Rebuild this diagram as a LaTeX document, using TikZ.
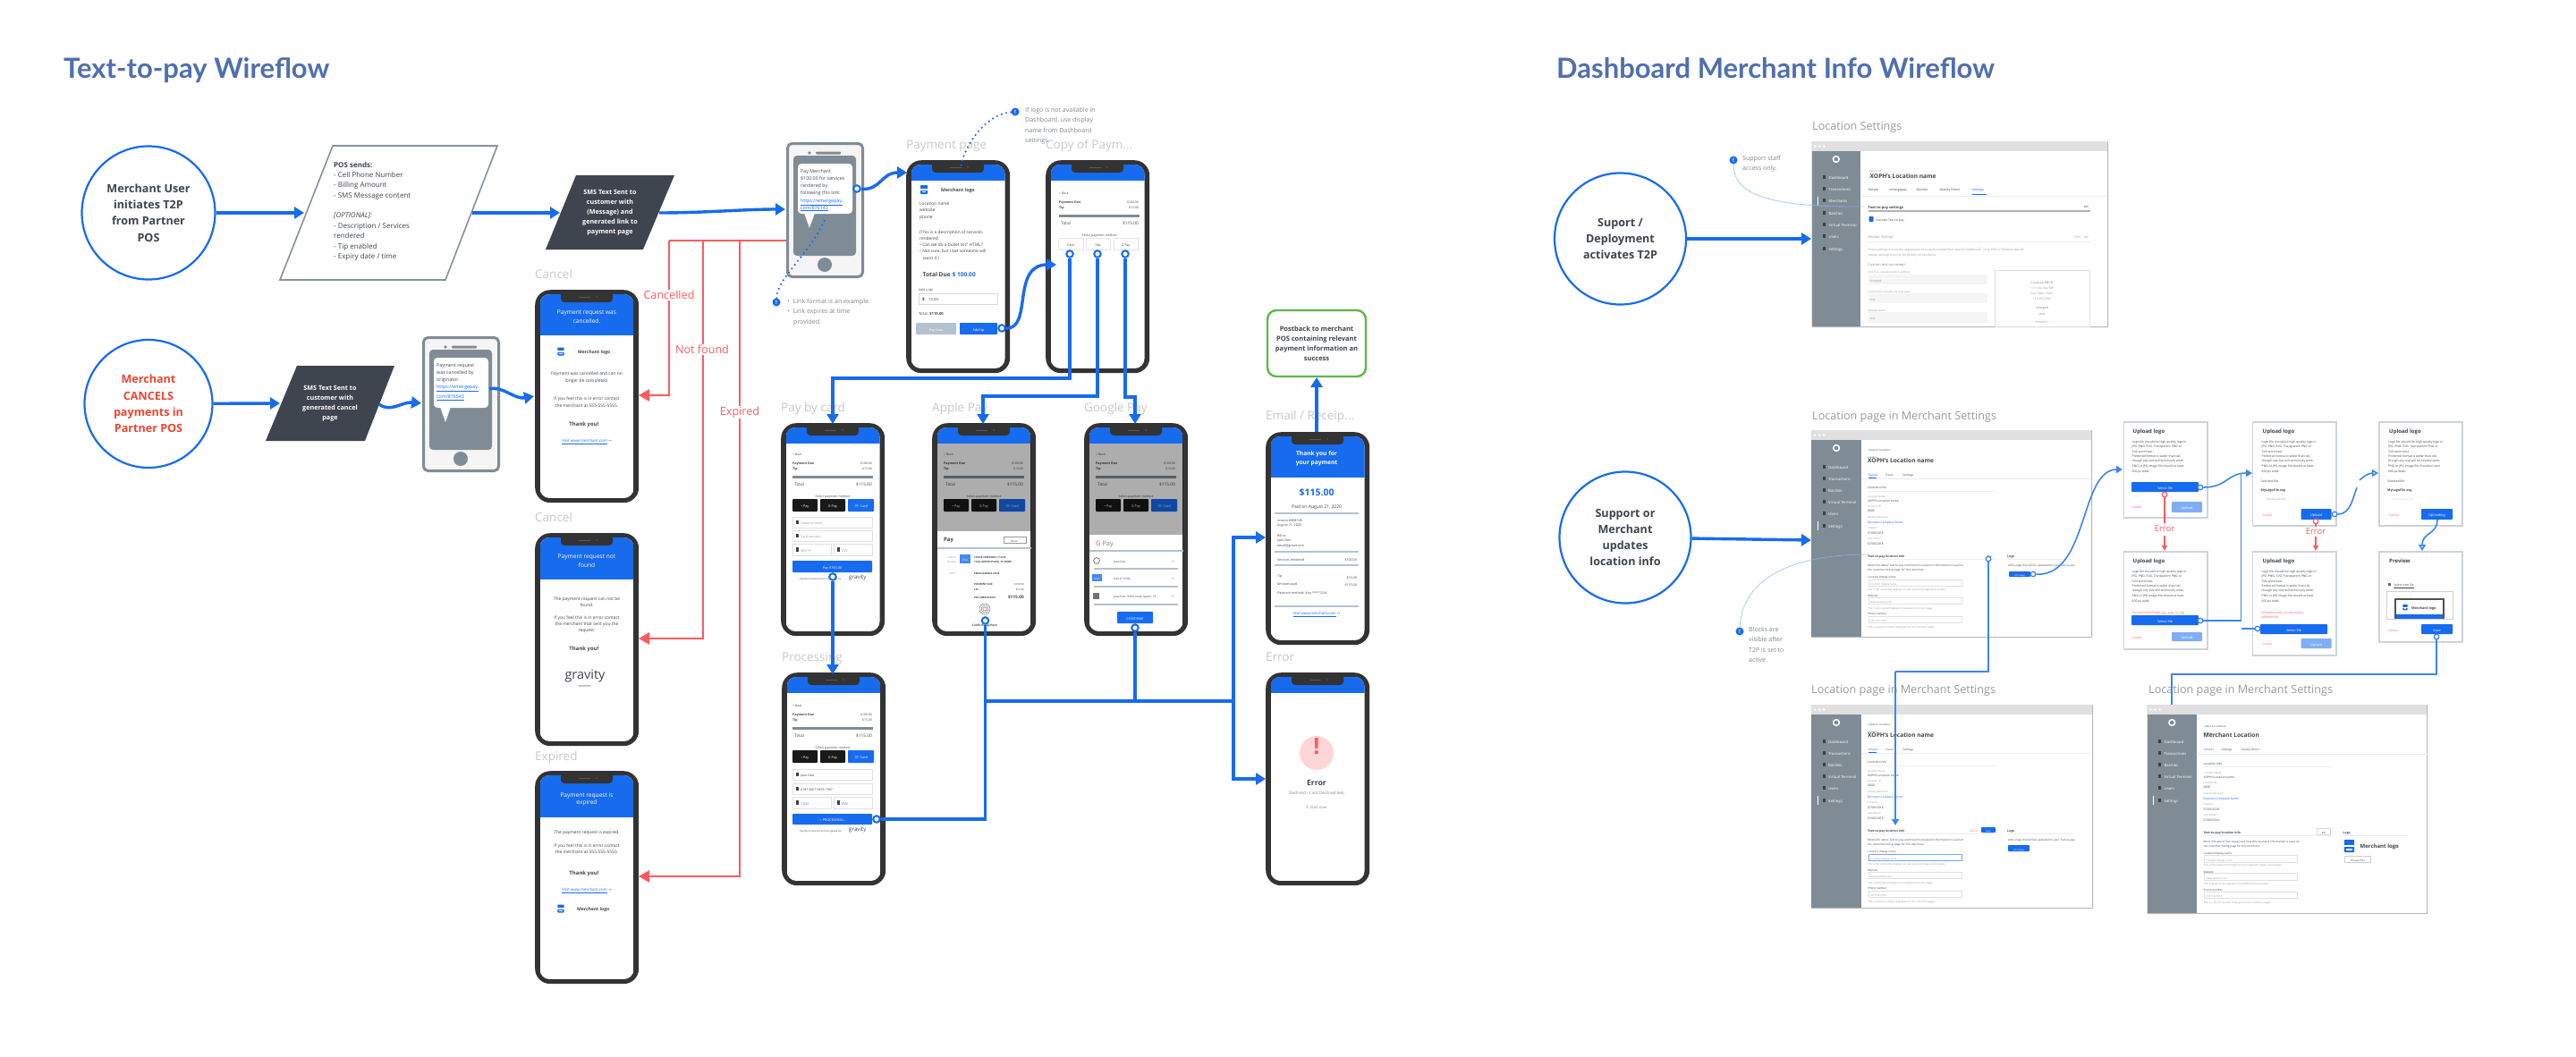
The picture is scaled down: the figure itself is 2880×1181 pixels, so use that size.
\documentclass[tikz,border=0pt]{standalone}
\usepackage{fontspec}
\setmainfont{Open Sans}
\newfontfamily\titlef{Lato}
\newfontfamily\djf{DejaVu Sans}
\usetikzlibrary{arrows.meta,shapes.geometric,calc}
\definecolor{cblue}{HTML}{176BEF}
\definecolor{cthin}{HTML}{3D85F0}
\definecolor{cdark}{HTML}{333333}
\definecolor{cslate}{HTML}{3E454E}
\definecolor{cred}{HTML}{FF5A5F}
\definecolor{corange}{HTML}{F0452F}
\definecolor{csteel}{HTML}{7F8C95}
\definecolor{crule}{HTML}{B4C2CE}
\definecolor{clabel}{HTML}{C6C9CD}
\definecolor{clabelb}{HTML}{969BA1}
\definecolor{cnote}{HTML}{7E858B}
\definecolor{cgreen}{HTML}{5CB84A}
\definecolor{ctitle}{HTML}{4F6FB0}
\definecolor{cframe}{HTML}{CDD3D9}
\definecolor{cfaint}{HTML}{E9EEF3}
\tikzset{
 lbl/.style={inner sep=0pt,text=cslate},
 bld/.style={execute at begin node=\bfseries},
 wht/.style={text=white},
 blu/.style={text=cblue},
 rdt/.style={text=cred},
 gry/.style={text=cnote},
 lgt/.style={text=black!40},
 phonebody/.style={fill=cdark,rounded corners=17pt,minimum width=116pt,minimum height=238pt,anchor=north west,inner sep=0pt},
 startcirc/.style={circle,draw=cblue,line width=2.2pt,fill=white,align=center,inner sep=0pt,text=cslate,font=\fontsize{12.6}{18.3}\selectfont\bfseries},
 conn/.style={draw=cblue,line width=3.4pt},
 connh/.style={conn,-{Triangle[length=11pt,width=13pt]}},
 thin2/.style={draw=cthin,line width=1.6pt},
 thin2h/.style={thin2,-{Triangle[length=7pt,width=8pt]}},
 thin2o/.style={thin2,-{Triangle[open,length=7pt,width=8pt,fill=white]}},
 redc/.style={draw=cred,line width=2.8pt},
 redh/.style={redc,-{Triangle[length=12pt,width=13pt]}},
 redt/.style={redc,line width=1.5pt,-{Triangle[length=6pt,width=6pt]}},
 port/.style={circle,draw=cblue,fill=white,line width=2pt,minimum size=7.5pt,inner sep=0pt},
 portt/.style={port,draw=cthin,line width=1.3pt,minimum size=5.5pt},
 portr/.style={port,draw=cred,line width=1.3pt,minimum size=5.5pt},
 screenlabel/.style={lbl,text=clabel,anchor=mid west,font=\fontsize{13.5}{14}\selectfont},
 winlabel/.style={lbl,text=clabelb,anchor=mid west,font=\fontsize{12.6}{14}\selectfont},
 rederr/.style={lbl,text=cred,font=\fontsize{12.6}{14}\selectfont,fill=white,inner sep=1pt},
 dots/.style={draw=cblue,line width=2.4pt,line cap=round,dash pattern=on 0pt off 5.4pt},
 fine/.style={draw=cthin!60,line width=.9pt,dash pattern=on 1pt off .7pt},
 info/.style={circle,fill=cblue,text=white,minimum size=9pt,inner sep=0pt,font=\fontsize{6}{6}\selectfont\bfseries},
 notet/.style={lbl,text=cnote,anchor=north west,align=left,font=\fontsize{7}{11.6}\selectfont},
 ruleb/.style={draw=crule,line width=2.2pt},
 rulef/.style={draw=cfaint,line width=.9pt},
 ruleg/.style={draw=csteel,line width=3pt},
 winbox/.style={draw=black!28,line width=1.2pt,fill=white,anchor=north west,inner sep=0pt,rounded corners=.8pt},
 dlg/.style={draw=cframe,line width=1.5pt,fill=white,anchor=north west,inner sep=0pt},
}
\newcounter{tn}
\newcommand{\LT}[5][]{\stepcounter{tn}\node[lbl,anchor=mid west,font=\fontsize{#4}{#4}\selectfont,#1] (t\arabic{tn}) at ({#2},{#3}) {#5};}
\newcommand{\CT}[5][]{\stepcounter{tn}\node[lbl,anchor=mid,font=\fontsize{#4}{#4}\selectfont,#1] (t\arabic{tn}) at ({#2},{#3}) {#5};}
\newcommand{\RT}[5][]{\stepcounter{tn}\node[lbl,anchor=mid east,font=\fontsize{#4}{#4}\selectfont,#1] (t\arabic{tn}) at ({#2},{#3}) {#5};}
% button: x1 x2 y1 y2 colour text
\newcommand{\PB}[6]{\fill[#5,rounded corners=.8pt] (#1,#3) rectangle (#2,#4);\CT[wht]{(#1+#2)/2}{(#3+#4)/2}{3.8}{#6}}
\newcommand{\storeicon}[3]{\begin{scope}[shift={(#1,#2)},scale=#3]
 \fill[cblue,rounded corners=.8pt] (-4,-5) rectangle (4,5);\fill[white] (-4,-.6) rectangle (4,.9);\fill[white] (-2.2,2) rectangle (2.2,3.4);\end{scope}}
\newcommand{\phoneframe}[4]{\node[phonebody] (#1) at (#2,#3) {};
 \begin{scope}[shift={(#2,#3)}]
 \begin{scope}\clip[rounded corners=11pt] (5.5,5) rectangle (110.5,233);
  \fill[white] (5.5,5) rectangle (110.5,233);\fill[cblue] (5.5,5) rectangle (110.5,#4);\end{scope}
 \fill[cdark,rounded corners=4pt] (29,2) rectangle (87,14);
 \fill[black!65] (49,7.6) rectangle (62,8.6);\fill[black!65] (69,8) circle (.8);
 \end{scope}}
\newcommand{\paysum}{%
 \LT{13}{34}{3.4}{\textless\ Back}
 \LT[bld]{13}{44}{3.6}{Payment Due}\RT{102}{44}{3.4}{\$100.00}
 \LT[bld]{13}{50}{3.6}{Tip}\RT{102}{50}{3.4}{\$15.00}
 \draw[ruleg] (13,60.5) -- (103,60.5);
 \LT{15}{67.5}{4.8}{Total}\RT{102}{67.5}{4.8}{\$115.00}
 \CT{58}{80.5}{3.5}{Select payment method}}
\newcommand{\paybtns}{%
 \PB{13}{41}{85}{99}{black!90}{\textbullet\ Pay}\PB{44}{72}{85}{99}{black!90}{G Pay}\PB{75}{104}{85}{99}{cblue}{\(\equiv\) Card}}
\newcommand{\smallphone}[7]{\node[draw=csteel,line width=3pt,fill=black!4,rounded corners=5pt,minimum width=84pt,minimum height=149pt,anchor=north west,inner sep=0pt] (#1) at (#2,#3) {};
 \begin{scope}[shift={(#2,#3)}]
 \fill[csteel,rounded corners=4pt] (8,15) rectangle (78,127);
 \fill[csteel,rounded corners=1pt] (33,10.5) rectangle (61,13.5);\fill[csteel] (26,12) circle (1.8);\fill[csteel] (43,137) circle (8);
 \fill[white,rounded corners=4pt] (13,24) rectangle (74,80);\fill[white] (20,79) -- (26,96) -- (32,79) -- cycle;
 \LT{16}{32}{5.3}{#4}\LT{16}{40}{5.3}{#5}\LT{16}{48}{5.3}{#6}\LT{16}{56}{5.3}{#7}}
\newcommand{\winframe}[6]{\node[winbox,minimum width=#4pt,minimum height=#5pt] (#1) at (#2,#3) {};
 \begin{scope}[shift={(#2,#3)}]
 \fill[black!12] (0,0) rectangle (#4,11);\fill[white] (4,5.5) circle (1.3);\fill[white] (9,5.5) circle (1.3);\fill[white] (14,5.5) circle (1.3);
 \fill[csteel] (0,11) rectangle (#6,#5);
 \fill[white] (#6/2,20) circle (4.2);\fill[csteel] (#6/2,20) circle (2.4);}
\newcommand{\Sb}[2]{\fill[black!75] (12.5,#1-2.2) rectangle (15.5,#1+2.2);\LT[wht]{19}{#1}{4.2}{#2}}
\newcommand{\locside}{\Sb{41}{Dashboard}\Sb{54}{Transactions}\Sb{67}{Batches}\Sb{80}{Virtual Terminal}\Sb{93}{Users}\Sb{107}{Settings}\fill[white] (6.6,102) rectangle (7.4,112);}
\newcommand{\locinfo}{%
 \LT{63}{21}{2.8}{\textless\ Back to Locations}\LT{63}{29}{2.6}{Location}
 \draw[rulef,draw=cblue!12] (56,54) -- (313,54);
 \LT{63}{63}{3.4}{Location Info}\draw[rulef] (63,68) -- (206,68);
 \LT[lgt]{63}{73}{2.8}{Location Name}\LT{63}{78}{3.3}{XOPH's Location name}
 \LT[lgt]{63}{84}{2.8}{Location ID}\LT{63}{89}{3.3}{0000}
 \LT[lgt]{63}{96}{2.8}{Gravity Merchant}\LT[blu]{63}{102}{3.3}{Business Company Name}
 \LT[lgt]{63}{108}{2.8}{Created}\LT{63}{114}{3.3}{07/06/2018}
 \LT[lgt]{63}{120}{2.8}{Last Edited}\LT{63}{126}{3.3}{07/06/2018}
 \LT[bld]{63}{140}{3.4}{Text-to-pay location info}\draw[rulef] (63,144.5) -- (206,144.5);
 \LT{63}{150}{3.1}{More info about Text-to-pay and how this location's information is used on}
 \LT{63}{155}{3.1}{the customer-facing page for this merchant.}
 \LT{63}{163}{3}{Location display name}\draw[black!12,fill=white,line width=.7pt] (64,167) rectangle (168,174.5);\LT[lgt]{66}{171}{2.8}{Location display name}
 \LT[lgt]{63}{176.5}{2.8}{This is the name that displays on your payment pages and receipts.}
 \LT{63}{184}{3}{Website}\draw[black!12,fill=white,line width=.7pt] (64,187) rectangle (168,194.5);\LT[lgt]{66}{191}{2.8}{www.website.com}
 \LT[lgt]{63}{197.5}{2.8}{This is optional and appears if available from your page.}
 \LT{63}{204}{3}{Phone number}\draw[black!12,fill=white,line width=.7pt] (64,208) rectangle (168,215);\LT[lgt]{66}{211.5}{2.8}{555-555-5555}
 \LT[lgt]{63}{218.5}{2.8}{This is a phone number displayed on the customer pages.}
 \LT[bld]{219}{140}{3.4}{Logo}\draw[rulef] (219,144.5) -- (291,144.5);}
\newcommand{\upltxt}[1]{\LT[bld]{#1}{11}{6}{Upload logo}
 \LT{#1-1}{22}{3.4}{Logo file should be high quality logo in}
 \LT{#1-1}{27}{3.4}{JPG, PNG, SVG. Transparent PNG or}
 \LT{#1-1}{32.5}{3.4}{SVG work best.}
 \LT{#1-1}{38}{3.4}{Preferred format is wider than tall,}
 \LT{#1-1}{43}{3.4}{though any size will technically work.}
 \LT{#1-1}{48.5}{3.4}{PNG or JPG image file should at least}
 \LT{#1-1}{54.5}{3.4}{600 px wide.}}
\newcommand{\dlgbox}[5]{\node[dlg,minimum width=#4pt,minimum height=#5pt] (#1) at (#2,#3) {};}
\begin{document}
\begin{tikzpicture}[x=1pt,y=-1pt]
\useasboundingbox (0,0) rectangle (2880,1181);
\fill[white] (0,0) rectangle (2880,1181);
% ---------- titles
\node[lbl,text=ctitle,anchor=mid west,font=\fontsize{31}{31}\selectfont\titlef\bfseries] (title1) at (71,85) {Text-to-pay Wireflow};
\node[lbl,text=ctitle,anchor=mid west,font=\fontsize{31}{31}\selectfont\titlef\bfseries] (title2) at (1740,85) {Dashboard Merchant Info Wireflow};
% ---------- start nodes left
\node[startcirc,minimum size=149pt] (m1) at (166,238) {Merchant User\\initiates T2P\\from Partner\\POS};
\node[startcirc,minimum size=143pt,text=corange] (m2) at (166,451.5) {Merchant\\CANCELS\\payments in\\Partner POS};
\draw[draw=black!25!crule,line width=1.6pt,fill=white] (372,163) -- (556,163) -- (498,313) -- (313,313) -- cycle;
\node[lbl,anchor=north west,align=left,font=\fontsize{8}{11.35}\selectfont] (pos) at (373,181) {\textbf{POS sends:}\\- Cell Phone Number\\- Billing Amount\\- SMS Message content\\[11.3pt]\textit{[OPTIONAL]:}\\- Description / Services\\rendered\\- Tip enabled\\- Expiry date / time};
\fill[cslate] (644,196) -- (754,196) -- (719,279) -- (610,279) -- cycle;
\node[lbl,wht,align=center,font=\fontsize{7.2}{11.1}\selectfont\bfseries] (sms1) at (682,237.5) {SMS Text Sent to\\customer with\\(Message) and\\generated link to\\payment page};
\fill[cslate] (332,409) -- (441,409) -- (408,493) -- (297,493) -- cycle;
\node[lbl,wht,align=center,font=\fontsize{7.2}{11.1}\selectfont\bfseries] (sms2) at (369,451) {SMS Text Sent to\\customer with\\generated cancel\\page};
% ---------- small phones
\smallphone{sp1}{879}{159}{Pay Merchant}{\$100.00 for services}{rendered by}{following this link:}
 \LT[blu]{16}{64.5}{5.3}{\underline{https://emergepay.}}\LT[blu]{16}{72.5}{5.3}{\underline{com/876143}}
\end{scope}
\smallphone{sp2}{472}{376}{Payment request}{was cancelled by}{originator.}{\textcolor{cblue}{\underline{https://emergepay.}}}
 \LT[blu]{16}{67}{5.3}{\underline{com/876543}}
\end{scope}
% ---------- screen labels
\node[screenlabel] (l1) at (598,309) {Cancel};
\node[screenlabel] (l2) at (598,581) {Cancel};
\node[screenlabel] (l3) at (598,848) {Expired};
\node[screenlabel] (l4) at (1013,164) {Payment page};
\node[screenlabel] (l5) at (1169,164) {Copy of Paym...};
\node[screenlabel] (l6) at (873,458) {Pay by card};
\node[screenlabel] (l7) at (1042,458) {Apple Pay};
\node[screenlabel] (l8) at (1212,458) {Google Pay};
\node[screenlabel] (l9) at (1415,467) {Email / Receip...};
\node[screenlabel] (l10) at (874,737) {Processing};
\node[screenlabel] (l11) at (1415,737) {Error};
% ---------- Cancel
\phoneframe{pCancel}{598}{324}{51}
\begin{scope}[shift={(598,324)}]
 \CT[wht]{58}{25}{6.6}{Payment request was}\CT[wht]{58}{35}{6.6}{cancelled.}
 \storeicon{29}{69}{.9}\LT[bld]{48}{69}{5}{Merchant logo}
 \CT{58}{93}{4.9}{Payment was cancelled and can no}\CT{58}{101}{4.9}{longer be completed.}
 \CT{58}{121}{4.9}{If you feel this is in error contact}\CT{58}{129}{4.9}{the merchant at 555-555-5555.}
 \CT[bld]{55}{150}{6}{Thank you!}\CT[blu]{58}{168}{4.4}{\underline{Visit www.merchant.com} {\djf→}}
\end{scope}
% ---------- Cancel not found
\phoneframe{pNotFound}{598}{596}{52}
\begin{scope}[shift={(598,596)}]
 \CT[wht]{58}{26}{6.6}{Payment request not}\CT[wht]{58}{36}{6.6}{found}
 \CT{58}{73}{4.9}{The payment request can not be}\CT{58}{80}{4.9}{found.}
 \CT{58}{94}{4.9}{If you feel this is in error contact}\CT{58}{101}{4.9}{the merchant that sent you the}\CT{58}{108}{4.9}{request.}
 \CT[bld]{55}{129}{6}{Thank you!}
 \CT{56}{161}{14.5}{gravity}\CT{56}{170}{2.8}{PAYMENTS}
\end{scope}
% ---------- Expired
\phoneframe{pExpired}{598}{862}{52}
\begin{scope}[shift={(598,862)}]
 \CT[wht]{58}{27}{6.6}{Payment request is}\CT[wht]{58}{35}{6.6}{expired}
 \CT{58}{68}{4.9}{The payment request is expired.}
 \CT{58}{83}{4.9}{If you feel this is in error contact}\CT{58}{90}{4.9}{the merchant at 555-555-5555.}
 \CT[bld]{55}{114}{6}{Thank you!}\CT[blu]{58}{132}{4.4}{\underline{Visit www.merchant.com} {\djf→}}
 \storeicon{29}{154}{.9}\LT[bld]{47}{154}{5}{Merchant logo}
\end{scope}
% ---------- Payment page
\phoneframe{pPay}{1013}{179}{23}
\begin{scope}[shift={(1013,179)}]
 \storeicon{20}{33}{1}\LT[bld]{39}{33}{5.2}{Merchant logo}
 \LT{15}{48}{4.8}{Location name}\LT{15}{55}{4.8}{website}\LT{15}{63}{4.8}{phone}
 \LT{15}{80}{4.8}{(This is a description of services}\LT{15}{87}{4.8}{rendered.}
 \LT{15}{94}{4.8}{\textbullet\ Can we do a bullet list? HTML?}\LT{15}{101}{4.8}{\textbullet\ Not sure, but I bet someone will}\LT{19}{109}{4.8}{want it.)}
 \LT[bld]{18.5}{128}{6.6}{Total Due \textcolor{cblue}{\$ 100.00}}
 \LT{14}{144}{3.6}{Add a tip!}
 \draw[black!15,line width=.8pt] (14,149) rectangle (102,161);
 \LT[bld]{18}{155}{4.8}{\$}\LT{25}{155}{4.2}{15.00}
 \LT{14}{171}{4.2}{Total: \textbf{\$115.00}}
 \PB{11}{56}{182}{195}{crule}{Pay Now}\PB{60}{102}{182}{195}{cblue}{Add tip}
\end{scope}
% ---------- Copy of Payment
\phoneframe{pCopy}{1169}{179}{23}
\begin{scope}[shift={(1169,179)}]
 \begin{scope}[shift={(2,2)}]\paysum\end{scope}
 \foreach \xa/\xb/\tt in {14/42/Card,45/72/Pay,76/103/G Pay}{
  \draw[black!10,line width=.8pt] (\xa,87) rectangle (\xb,100);
  \CT{\xa/2+\xb/2}{93.5}{3.6}{\tt}}
\end{scope}
% ---------- Pay by card
\phoneframe{pCard}{873}{473}{23}
\begin{scope}[shift={(873,473)}]
 \paysum\paybtns
 \foreach \yy/\tt in {105/Name on card,120/Card number}{\draw[black!12,line width=.8pt] (13,\yy) rectangle (102,\yy+12);\LT[lgt]{22}{\yy+6}{3.6}{\tt}\fill[black!75] (17,\yy+4) rectangle (20,\yy+8);}
 \draw[black!12,line width=.8pt] (13,135) rectangle (56,148);\LT[lgt]{22}{141.5}{3.6}{MM/YY}\fill[black!75] (17,139) rectangle (20,144);
 \draw[black!12,line width=.8pt] (59,135) rectangle (102,148);\LT[lgt]{68}{141.5}{3.6}{CVV}\fill[black!75] (63,139) rectangle (66,144);
 \PB{13}{102}{154}{167}{cblue}{Pay \$100.00}
 \LT{21}{173}{2.8}{Payment secured and encrypted by}\LT{76}{172}{6.2}{gravity}
\end{scope}
% ---------- Apple Pay
\phoneframe{pApple}{1042}{473}{23}
\begin{scope}[shift={(1042,473)}]
 \paysum\paybtns
 \fill[black,opacity=.32] (5.5,23) rectangle (110.5,121);
 \LT[bld]{13}{130}{6}{Pay}
 \draw[black!40,line width=.6pt] (80,127) rectangle (105,134);\CT{92}{130.5}{3}{Done}
 \draw[ruleb] (5.5,140) -- (110.5,140);
 \RT[lgt]{27}{149}{2.6}{CARD \&}\RT[lgt]{27}{154}{2.6}{BILLING}
 \fill[cblue!80] (31,147) rectangle (43,157);\CT[wht]{37}{152}{3}{VISA}
 \LT[bld]{47}{149}{2.9}{CHASE FREEDOM (\textbullet\textbullet1234)}\LT[bld]{47}{154}{2.9}{1234 LOREM IPSUM, TX 99999}
 \RT[lgt]{27}{167}{2.6}{EMAIL}\LT[bld]{47}{167}{2.9}{EMAIL@EMAIL.COM}
 \LT[bld]{47}{179}{2.9}{PAYMENT DUE}\RT{103}{179}{2.9}{\$100.00}
 \LT[bld]{47}{185}{2.9}{TIP}\RT{103}{185}{2.9}{\$15.00}
 \LT[bld]{47}{194}{2.9}{PAY (MERCHANT)}\RT[bld]{103}{194}{4.8}{\$115.00}
 \foreach \rr in {2,4,6}{\draw[black!55,line width=.5pt] (59,208) circle (\rr);}
 \CT[bld]{59}{225}{3.2}{Confirm Payment}
\end{scope}
% ---------- Google Pay
\phoneframe{pGoogle}{1212}{473}{23}
\begin{scope}[shift={(1212,473)}]
 \paysum\paybtns
 \fill[black,opacity=.32] (5.5,23) rectangle (110.5,125);
 \LT[gry]{13}{135}{7.4}{\textcolor{corange}{G} Pay}
 \draw[ruleb] (5.5,143) -- (110.5,143);
 \draw[black!60,line width=.7pt] (14,154) circle (3.4);
 \LT{33}{154}{3.2}{Jane Doe}\RT[gry]{102}{154}{3.2}{\(\vee\)}
 \draw[ruleb] (11,163) -- (105,163);
 \fill[cblue!80] (9,169) rectangle (20,177);\CT[wht]{14.5}{173}{2.8}{VISA}
 \LT{33}{173}{3.2}{Visa (\textbullet\textbullet1234)}\RT[gry]{102}{173}{3.2}{\(\vee\)}
 \draw[ruleb] (11,183) -- (105,183);
 \fill[black!55] (10,190) rectangle (17,197);
 \LT{33}{193}{3.2}{Jane Doe 1600 Lorem Ipsum, TX...}\RT[gry]{102}{193}{3.2}{\(\vee\)}
 \draw[ruleb] (11,203) -- (105,203);
 \PB{37}{77}{211}{224}{cblue}{CONTINUE}
\end{scope}
% ---------- Processing
\phoneframe{pProc}{874}{752}{23}
\begin{scope}[shift={(874,752)}]
 \begin{scope}[shift={(-1,2)}]\paysum\paybtns\end{scope}
 \begin{scope}[shift={(-1,3)}]
 \foreach \yy/\tt in {105/Jane Doe,121/4187 0067 6876 7997}{\draw[black!12,line width=.8pt] (13,\yy) rectangle (102,\yy+12);\LT{22}{\yy+6}{3.6}{\tt}\fill[black!75] (17,\yy+4) rectangle (20,\yy+8);}
 \draw[black!12,line width=.8pt] (13,136) rectangle (56,149);\LT{22}{142.5}{3.6}{11/21}\fill[black!75] (17,140) rectangle (20,145);
 \draw[black!12,line width=.8pt] (59,136) rectangle (102,149);\LT{68}{142.5}{3.6}{CVV}\fill[black!75] (63,140) rectangle (66,145);
 \end{scope}
 \PB{12}{101}{158}{170}{cblue}{--- PROCESSING...}
 \LT{20}{176}{2.8}{Payment secured and encrypted by}\LT{75}{175}{6.2}{gravity}
\end{scope}
% ---------- Receipt
\phoneframe{pReceipt}{1415}{483}{51}
\begin{scope}[shift={(1415,483)}]
 \CT[wht,bld]{57}{24}{6.6}{Thank you for}\CT[wht,bld]{57}{34}{6.6}{your payment}
 \CT[blu,bld]{57}{69}{10.5}{\$115.00}\CT{57}{83}{5}{Paid on August 21, 2020}
 \draw[ruleb] (10,91) -- (104,91);
 \LT{13}{98}{3.6}{Invoice \#808108}\LT{13}{103}{3.6}{August 21, 2020}
 \LT{13}{115}{3.6}{Bill to:}\LT{13}{120}{3.6}{Jane Doe}\LT{13}{126}{3.6}{email@gmail.com}
 \draw[ruleb] (10,134) -- (104,134);
 \LT{13}{142}{3.6}{Services rendered}\RT{102}{142}{3.6}{\$100.00}
 \draw[ruleb] (10,149) -- (104,149);
 \LT{13}{160}{3.6}{Tip}\RT{102}{162}{3.6}{\$15.00}
 \LT{13}{169}{3.6}{Amount paid}\RT{102}{170}{3.6}{\$115.00}
 \LT{13}{179}{3.6}{Payment method: Visa ****1234}
 \draw[ruleb] (10,195) -- (104,195);
 \CT[blu]{57}{202}{4.2}{\underline{Visit www.merchant.com} {\djf→}}
\end{scope}
% ---------- Error
\phoneframe{pError}{1415}{752}{23}
\begin{scope}[shift={(1415,752)}]
 \fill[cred!25] (57,90) circle (19);
 \CT[bld,text=cred]{57}{89}{25}{!}
 \CT[bld]{57}{124}{8.6}{Error}\CT[gry]{57}{134}{4.6}{Declined - Card Declined (66)}
 \CT[gry]{57}{150}{4.2}{{\djf↻} Start over}
\end{scope}
% ---------- postback
\node[draw=cgreen,line width=2.4pt,rounded corners=10pt,fill=white,minimum width=110pt,minimum height=74pt,inner sep=0pt,align=center,text=cslate,font=\fontsize{7.5}{11.2}\selectfont\bfseries] (post) at (1472,384) {Postback to merchant\\POS containing relevant\\payment information an\\success};
% ---------- notes left
\node[info] (i1) at (868,338) {!};
\node[notet] (n1) at (880,333.5) {\textbullet\hspace{4pt}Link format is an example.\\\textbullet\hspace{4pt}Link expires at time\\\hspace{7pt}provided.};
\node[info] (i2) at (1135,125) {!};
\node[notet] (n2) at (1146,119.5) {If logo is not available in\\Dashboard, use display\\name from Dashboard\\settings.};
% ---------- ports
\node[port] (ps1) at (958,211) {};
\node[port] (pp1) at (1120,367) {};
\node[port] (pc1) at (1196,284) {};
\node[port] (pc2) at (1227,284) {};
\node[port] (pc3) at (1258,284) {};
\node[port] (pd1) at (931,645) {};
\node[port] (pd2) at (1101.5,694) {};
\node[port] (pd3) at (1269,702) {};
\node[port] (pd4) at (980,916) {};
% ---------- named waypoints
\coordinate (a1) at (340,238);\coordinate (a2s) at (528,238);\coordinate (a2) at (626,238);
\coordinate (a3s) at (737,238);\coordinate (a3) at (878,234);
\coordinate (a4) at (313,451);\coordinate (a5s) at (424,452);\coordinate (a5) at (471,451);
\coordinate (a6s) at (547,435);\coordinate (a6) at (597,443);
\coordinate (tpay) at (1014,193);\coordinate (tcopy) at (1181,296);
\coordinate (w1a) at (1196,423);\coordinate (w1b) at (931,423);\coordinate (tcard) at (931,474);
\coordinate (w2a) at (1227,443);\coordinate (w2b) at (1099,443);\coordinate (tapple) at (1099,474);
\coordinate (w3a) at (1258,444);\coordinate (w3b) at (1269,444);\coordinate (tgoogle) at (1269,474);
\coordinate (tproc) at (931,754);
\coordinate (j1) at (1101.5,916);\coordinate (j2) at (1101.5,784);\coordinate (j3) at (1269,784);\coordinate (j4) at (1379,784);
\coordinate (j5) at (1379,601);\coordinate (j6) at (1379,871);\coordinate (trec) at (1415,601);\coordinate (terr) at (1415,871);
\coordinate (rs) at (879,269);\coordinate (r1a) at (748,269);\coordinate (r1b) at (748,442);\coordinate (r1c) at (714,442);
\coordinate (r2a) at (786,269);\coordinate (r2b) at (786,714);\coordinate (r2c) at (714,714);
\coordinate (r3a) at (827,269);\coordinate (r3b) at (827,980);\coordinate (r3c) at (714,980);
\coordinate (gs) at (1472,483);\coordinate (gt) at (1472,422);
% ---------- connectors left
\draw[connh] (m1) -- (a1);
\draw[connh] (a2s) -- (a2);
\draw[connh] (a3s) .. controls (790,238) and (830,234) .. (a3);
\draw[connh] (m2) -- (a4);
\draw[connh] (a5s) .. controls (436,462) and (450,449) .. (a5);
\draw[connh] (a6s) .. controls (562,431) and (575,447) .. (a6);
\draw[connh] (ps1) .. controls (985,213) and (985,193) .. (tpay);
\draw[connh] (pp1) .. controls (1155,368) and (1130,296) .. (tcopy);
\draw[connh] (pc1) -- (w1a) -- (w1b) -- (tcard);
\draw[connh] (pc2) -- (w2a) -- (w2b) -- (tapple);
\draw[connh] (pc3) -- (w3a) -- (w3b) -- (tgoogle);
\draw[connh] (pd1) -- (tproc);
\draw[conn] (pd4) -- (j1) -- (pd2);
\draw[conn] (pd3) -- (j3);
\draw[conn] (j2) -- (j4);
\draw[connh] (j4) -- (j5) -- (trec);
\draw[connh] (j4) -- (j6) -- (terr);
\draw[connh] (gs) -- (gt);
\draw[redc] (rs) -- (r1a);
\draw[redh] (r1a) -- (r1b) -- (r1c);
\draw[redh] (r2a) -- (r2b) -- (r2c);
\draw[redh] (r3a) -- (r3b) -- (r3c);
\node[rederr] (rl1) at (748,330) {Cancelled};
\node[rederr] (rl2) at (785,391) {Not found};
\node[rederr] (rl3) at (827,461) {Expired};
\draw[dots] (i1) .. controls (869,310) and (905,285) .. (923,244);
\draw[dots] (i2) .. controls (1100,128) and (1078,165) .. (1074,186);
% ================= right side
\node[startcirc,minimum size=147pt] (m3) at (1811.5,267) {Suport /\\Deployment\\activates T2P};
\node[startcirc,minimum size=147pt] (m4) at (1817,601) {Support or\\Merchant\\updates\\location info};
\node[winlabel] (wl1) at (2026,143) {Location Settings};
\node[winlabel] (wl2) at (2026,467) {Location page in Merchant Settings};
\node[winlabel] (wl3) at (2025,773) {Location page in Merchant Settings};
\node[winlabel] (wl4) at (2402,773) {Location page in Merchant Settings};
% window 1
\winframe{w1}{2025.5}{158}{330.5}{207}{54.5}
 \fill[white] (6.6,62) rectangle (7.4,72);
 \Sb{40}{Dashboard}\Sb{53}{Transactions}\Sb{66}{Merchants}\Sb{80}{Batches}\Sb{93}{Virtual Terminal}\Sb{106}{Users}\Sb{120}{Settings}
 \LT[lgt]{65}{32}{2.6}{LOCATION}\LT[bld]{65}{38.5}{6.6}{XOPH's Location name}
 \LT{63}{53}{3.6}{Details}\LT{87}{53}{3.6}{emergepay}\LT{117}{53}{3.6}{Devices}\LT{143}{53}{3.6}{Gravity Direct}\LT[blu]{179}{53}{3.6}{Settings}
 \draw[cblue,line width=.9pt] (179,59.5) -- (195,59.5);\draw[rulef,draw=cblue!12] (55,61) -- (330,61);
 \LT[bld]{63}{73}{4}{Text-to-pay settings}\RT{310}{72}{3}{Edit}\draw[black!30,line width=1.8pt] (63,78) -- (311,78);
 \fill[cblue,rounded corners=.8pt] (64,84) rectangle (69,90);\LT{72}{87}{3.4}{Activate Text-to-pay}
 \LT[lgt]{63}{106}{3.8}{Receipt Settings}\RT[lgt]{310}{106}{3}{Print \quad Edit}\draw[rulef] (63,112) -- (311,112);
 \LT[lgt]{63}{120}{3.3}{These settings control the appearance of receipts created from Gravity Dashboard\textsuperscript{\texttrademark} only. POS or Terminal specific}
 \LT[lgt]{63}{126}{3.3}{receipt settings must be set directly on the device.}
 \LT[gry]{63}{137}{3.9}{Custom text on receipt}
 \LT[lgt]{63}{145}{3}{First line, usually location address}\fill[black!4] (63,149) rectangle (196,160);\LT[lgt]{65}{154.5}{3.4}{charged}
 \LT[lgt]{63}{167}{3}{Second line, usually city and state}\fill[black!4] (63,170) rectangle (196,181);\LT[lgt]{65}{175.5}{3.4}{test}
 \LT[lgt]{63}{188}{3}{Receipt footer}\fill[black!4] (63,191) rectangle (196,203);\LT[lgt]{65}{197}{3.4}{test}
 \draw[black!12,line width=.7pt] (204.5,144) rectangle (310.5,207);
 \CT[gry]{257.5}{157}{3.6}{Location ABCD}\CT[lgt]{257.5}{163}{3.2}{1111 Any Ave NW}\CT[lgt]{257.5}{169}{3.2}{City, State 10002}\CT[lgt]{257.5}{175}{3.2}{123-456-7890}
 \CT[gry]{257.5}{185}{3.6}{charged}\CT[gry]{257.5}{192}{3.4}{test}\CT[lgt]{257.5}{201}{3}{PAYMENTS}
\end{scope}
% window 2
\winframe{w2}{2025}{481}{313}{231}{56}
 \locside\locinfo
 \LT[bld]{63}{34}{6.6}{XOPH's Location name}
 \LT[blu]{64}{49}{3.2}{Details}\LT{83}{49}{3.2}{Users}\LT{102}{49}{3.2}{Settings}
 \draw[cblue,line width=.8pt] (64,53.5) -- (73,53.5);
 \RT{202}{140}{2.8}{Edit}
 \LT{220}{150}{3.1}{Add a logo that will be uploaded to your Text-to-pay}
 \PB{221}{245}{158}{164}{cblue}{}\CT[wht]{233}{161}{2.4}{Add image}
\end{scope}
% window 3
\winframe{w3}{2025}{788}{314}{227}{56}
 \locside\locinfo
 \LT[bld]{63}{34}{6.6}{XOPH's Location name}
 \LT[blu]{64}{49}{3.2}{Details}\LT{83}{49}{3.2}{Users}\LT{102}{49}{3.2}{Settings}
 \draw[cblue,line width=.8pt] (64,53.5) -- (73,53.5);
 \RT[rdt]{186}{140}{2.8}{Cancel}\PB{190}{206}{137}{143}{cblue}{}\CT[wht]{198}{140}{2.5}{Save}
 \draw[cblue!60,line width=.7pt] (64,167) rectangle (168,174.5);
 \LT{220}{150}{3.1}{Add a logo that will be uploaded to your Text-to-pay}
 \PB{220}{244}{157}{164}{cblue}{}\CT[wht]{232}{160.5}{2.4}{Add image}
\end{scope}
% window 4
\winframe{w4}{2400.5}{788}{312.5}{233}{55.5}
 \locside
 \begin{scope}[shift={(0,1.5)}]\locinfo\end{scope}
 \LT[bld]{63}{34}{6.6}{Merchant Location}
 \LT[blu]{64}{49}{3.2}{Details}\LT{83}{49}{3.2}{Settings}\LT{105}{49}{3.2}{Gravity Direct}
 \draw[black!15,line width=.7pt] (190,138) rectangle (205,145);\CT{197.5}{141.5}{2.5}{Edit}
 \storeicon{226}{158}{1.4}\LT[bld]{238}{158}{6}{Merchant logo}
 \draw[black!20,line width=.7pt] (221,169) rectangle (250,176);\CT{235.5}{172.5}{2.8}{Browse files}
\end{scope}
% upload dialogs
\dlgbox{dA}{2373.5}{471}{93.5}{107}
\begin{scope}[shift={(2373.5,471)}]\upltxt{11}\LT[rdt]{10}{95}{3.4}{Cancel}
 \PB{9.5}{84.5}{68}{79}{cblue}{Select file}\PB{54.5}{88.5}{90}{102}{cblue!55}{Upload}\end{scope}
\dlgbox{dB}{2517.5}{471}{93.5}{116}
\begin{scope}[shift={(2517.5,471)}]\upltxt{12}\LT{10}{66}{3.4}{Selected file:}\LT[bld]{10}{76}{3.6}{MyLogoFile.svg}\LT[lgt]{16}{86}{3}{Choose new file}
 \LT[rdt]{12}{104}{3.4}{Cancel}\PB{55}{89}{98}{110}{cblue}{Upload}\end{scope}
\dlgbox{dC}{2659}{471}{93}{116}
\begin{scope}[shift={(2659,471)}]\upltxt{12}\LT{10}{66}{3.4}{Selected file:}\LT[bld]{10}{76}{3.6}{MyLogoFile.svg}\LT[lgt,opacity=.5]{16}{86}{3}{Choose new file}
 \LT[rdt]{12}{104}{3.4}{Cancel}\PB{48}{83}{98}{110}{cblue}{Uploading}\end{scope}
\dlgbox{dD}{2373.5}{616}{93.5}{109}
\begin{scope}[shift={(2373.5,616)}]\upltxt{11}\LT[rdt]{10}{68}{3.4}{File must be of type .jpg, .png, or .svg}
 \PB{9.5}{84.5}{72}{83}{cblue}{Select file}\LT[rdt]{10}{96}{3.4}{Cancel}\PB{54.5}{88.5}{91}{101}{cblue!55}{Upload}\end{scope}
\dlgbox{dE}{2517.5}{616}{93.5}{116}
\begin{scope}[shift={(2517.5,616)}]\upltxt{12}\LT[rdt]{10}{68}{3.4}{Unknown error, try selecting a}\LT[rdt]{10}{73}{3.4}{different file.}
 \PB{9.5}{84.5}{82}{93}{cblue}{Select file}\LT[rdt]{12}{103}{3.4}{Cancel}\PB{55}{89}{98}{109}{cblue!55}{Upload}\end{scope}
\dlgbox{dP}{2659}{616}{93}{101}
\begin{scope}[shift={(2659,616)}]\LT[bld]{12}{11}{6}{Preview}
 \LT{17}{37}{3.4}{\underline{Select new file}}\fill[black!60] (11,35.5) rectangle (14,38.5);
 \draw[black!18,line width=.8pt] (9,45) rectangle (83,76);
 \draw[black!68,line width=2pt] (19,76) -- (19,54) -- (73,54) -- (73,76);
 \fill[cblue] (20,71) rectangle (72,76);
 \storeicon{30}{63}{.65}\LT[bld]{37}{63}{3.8}{Merchant logo}
 \LT[rdt]{11}{88}{3.4}{Cancel}\PB{48}{83}{82}{93}{cblue}{Save}\end{scope}
% ports right
\node[portt] (q1) at (2273,642) {};
\node[portt] (q2) at (2460,545) {};
\node[portt] (q3) at (2610,575) {};
\node[portt] (q4) at (2460,694) {};
\node[portt] (q5) at (2524,703) {};
\node[portt] (q6) at (2223,625) {};
\node[portt] (q7) at (2724,712) {};
\node[portr] (q8) at (2420,553) {};
\node[portr] (q9) at (2589,583) {};
\coordinate (b1) at (2025,267);\coordinate (b2) at (2025,604);
\coordinate (b3) at (2373,525);\coordinate (b4) at (2518,529);\coordinate (b5) at (2505.5,694);\coordinate (b6) at (2505.5,703);\coordinate (b6t) at (2505.5,529);
\coordinate (b7a) at (2635,545);\coordinate (b7b) at (2638,537);\coordinate (b7) at (2659,529);
\coordinate (b8) at (2725,581);\coordinate (b9) at (2708,616);
\coordinate (b10) at (2223,751);\coordinate (b11) at (2119,751);\coordinate (b12) at (2119,923);
\coordinate (b13) at (2724,754);\coordinate (b14) at (2428,754);\coordinate (b15) at (2428,788);
\coordinate (e1a) at (2420,585);\coordinate (e1b) at (2420,599);\coordinate (e1c) at (2420,616);
\coordinate (e2a) at (2589,589);\coordinate (e2b) at (2589,600);\coordinate (e2c) at (2589,616);
\coordinate (n3s) at (2085,231);\coordinate (n4s) at (2089,620);
\draw[connh] (m3) -- (b1);
\draw[connh] (m4) -- (b2);
\draw[thin2h] (q1) .. controls (2335,645) and (2325,525) .. (b3);
\draw[thin2h] (q2) .. controls (2490,545) and (2490,529) .. (b4);
\draw[thin2] (q4) -- (b5) -- (b6t);
\draw[thin2] (q5) -- (b6);
\draw[thin2] (q3) .. controls (2628,575) and (2630,558) .. (b7a);
\draw[thin2o] (b7b) .. controls (2644,531) and (2650,529) .. (b7);
\draw[thin2o] (b8) .. controls (2725,598) and (2708,595) .. (b9);
\draw[thin2] (q6) -- (b10) -- (b11);
\draw[thin2h] (b11) -- (b12);
\draw[thin2] (q7) -- (b13) -- (b14) -- (b15);
\draw[redc,line width=1.5pt] (q8) -- (e1a);
\draw[redt] (e1b) -- (e1c);
\draw[redc,line width=1.5pt] (q9) -- (e2a);
\draw[redt] (e2b) -- (e2c);
\node[lbl,rdt,font=\fontsize{9.5}{10}\selectfont] (er1) at (2420,591.5) {Error};
\node[lbl,rdt,font=\fontsize{9.5}{10}\selectfont] (er2) at (2589,594) {Error};
\node[info] (i3) at (1938,179) {!};
\node[notet] (n3) at (1948,173.5) {Support staff\\access only.};
\node[info] (i4) at (1945,706) {!};
\node[notet] (n4) at (1955,700.5) {Blocks are\\visible after\\T2P is set to\\active.};
\draw[fine] (i3) .. controls (1938,215) and (1970,232) .. (n3s);
\draw[fine] (i4) .. controls (1947,655) and (1990,620) .. (n4s);
\end{tikzpicture}
\end{document}
